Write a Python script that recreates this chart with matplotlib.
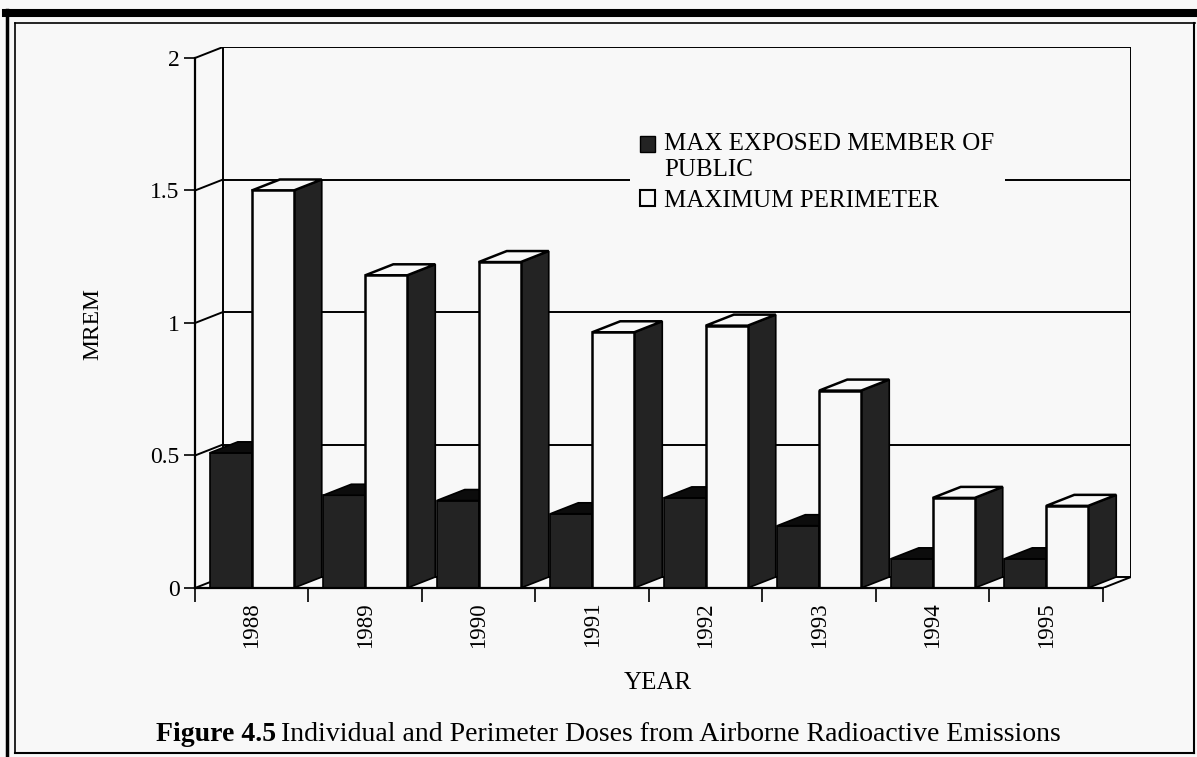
import matplotlib.pyplot as plt
from matplotlib.patches import Polygon, Patch
from matplotlib.lines import Line2D

years = ['1988', '1989', '1990', '1991', '1992', '1993', '1994', '1995']
max_public = [0.51, 0.35, 0.33, 0.28, 0.34, 0.235, 0.11, 0.11]
max_perimeter = [1.50, 1.18, 1.23, 0.965, 0.99, 0.745, 0.34, 0.31]
y_ticks = [0, 0.5, 1, 1.5, 2]

plt.rcParams['font.family'] = ['Liberation Serif', 'DejaVu Serif']

bg = '#f8f8f8'
dark = '#232323'
W, H = 1197, 757

fig = plt.figure(figsize=(W / 100, H / 100), dpi=100, facecolor=bg)
ax = fig.add_axes([195 / W, 169 / H, 936 / W, 541 / H])
ax.set_facecolor(bg)

n = len(years)
dx, dy = 0.247, 0.0415   # depth of the fake 3d
w = 0.37
ax.set_xlim(0, n + dx)
ax.set_ylim(0, 2 + dy)

# back wall and floor
lw = 1.4
for v in y_ticks:
    ax.plot([dx, n + dx], [v + dy, v + dy], color='black', lw=lw, zorder=1)
    ax.plot([0, dx], [v, v + dy], color='black', lw=lw, zorder=1)
ax.plot([dx, dx], [dy, 2 + dy], color='black', lw=lw, zorder=1)
ax.plot([n + dx, n + dx], [dy, 2 + dy], color='black', lw=lw, zorder=1)
ax.plot([n, n + dx], [0, dy], color='black', lw=lw, zorder=1)

# bars
for i in range(n):
    x0 = i + 0.5 - w
    x1 = i + 0.5
    h = max_public[i]
    ax.bar(x0, h, width=w, align='edge', color=dark, edgecolor='black', lw=1.2, zorder=3)
    ax.add_patch(Polygon([(x0, h), (x1, h), (x1 + dx, h + dy), (x0 + dx, h + dy)],
                         closed=True, facecolor='#0c0c0c', edgecolor='black', lw=1.2, zorder=3))
    h = max_perimeter[i]
    x2 = x1 + w
    ax.add_patch(Polygon([(x2, 0), (x2 + dx, dy), (x2 + dx, h + dy), (x2, h)],
                         closed=True, facecolor=dark, edgecolor='black', lw=1.2, zorder=4))
    ax.add_patch(Polygon([(x1, h), (x2, h), (x2 + dx, h + dy), (x1 + dx, h + dy)],
                         closed=True, facecolor=bg, edgecolor='black', lw=1.8, zorder=4))
    ax.bar(x1, h, width=w, align='edge', color=bg, edgecolor='black', lw=1.8, zorder=5)

for s in ['top', 'right']:
    ax.spines[s].set_visible(False)
ax.spines['left'].set_bounds(0, 2)
ax.spines['bottom'].set_bounds(0, n)
ax.spines['left'].set_linewidth(1.6)
ax.spines['bottom'].set_linewidth(1.6)
ax.spines['left'].set_zorder(6)
ax.spines['bottom'].set_zorder(6)

ax.set_yticks(y_ticks)
ax.set_yticklabels(['0', '0.5', '1', '1.5', '2'])
ax.tick_params(axis='y', length=8, width=1.2, pad=3, labelsize=17)
ax.set_xticks(range(n + 1))
ax.set_xticklabels([])
ax.set_xticks([i + 0.5 for i in range(n)], minor=True)
ax.set_xticklabels(years, minor=True, rotation=90)
ax.tick_params(axis='x', which='major', length=10, width=1.2)
ax.tick_params(axis='x', which='minor', length=0, pad=10, labelsize=16.5)

handles = [Patch(facecolor=dark, edgecolor='black'),
           Patch(facecolor=bg, edgecolor='black', lw=1.5)]
leg = ax.legend(handles, ['MAX EXPOSED MEMBER OF\nPUBLIC', 'MAXIMUM PERIMETER'],
                loc='upper left', bbox_to_anchor=(617 / W, 1 - 111 / H),
                bbox_transform=fig.transFigure, fontsize=18,
                frameon=True, facecolor=bg, edgecolor='none', framealpha=1,
                handlelength=0.6, handleheight=0.6, handletextpad=0.4,
                labelspacing=0.35, borderpad=0.4, fancybox=False)
leg.set_zorder(10)
# line the first box up with the first text line
box = leg.legend_handles[0]
box.set_y(box.get_y() + 9)

fig.text(93 / W, 1 - 324 / H, 'MREM', rotation=90, ha='center', va='center', fontsize=17)
fig.text(658 / W, 1 - 683 / H, 'YEAR', ha='center', va='center', fontsize=18)

# caption, bold prefix then normal text
cap1 = fig.text(156 / W, 1 - 741 / H, 'Figure 4.5', fontsize=20, fontweight='bold',
                ha='left', va='baseline')
fig.canvas.draw()
bb = cap1.get_window_extent()
fig.text(bb.x1 / W + 5 / W, 1 - 741 / H,
         'Individual and Perimeter Doses from Airborne Radioactive Emissions',
         fontsize=20, ha='left', va='baseline')

# page frame
def frame_line(xs, ys, width):
    fig.add_artist(Line2D([x / W for x in xs], [1 - y / H for y in ys],
                          color='black', lw=width, transform=fig.transFigure))

frame_line([6, W], [13, 13], 5.8)
frame_line([15, 1195], [23, 23], 1.2)
frame_line([7, 7], [10, H], 2.5)
frame_line([15, 15], [23, 753], 1.2)
frame_line([1194, 1194], [23, 753], 1.5)
frame_line([15, 1194], [753, 753], 1.5)

fig.savefig('out.png', dpi=100, facecolor=bg)
